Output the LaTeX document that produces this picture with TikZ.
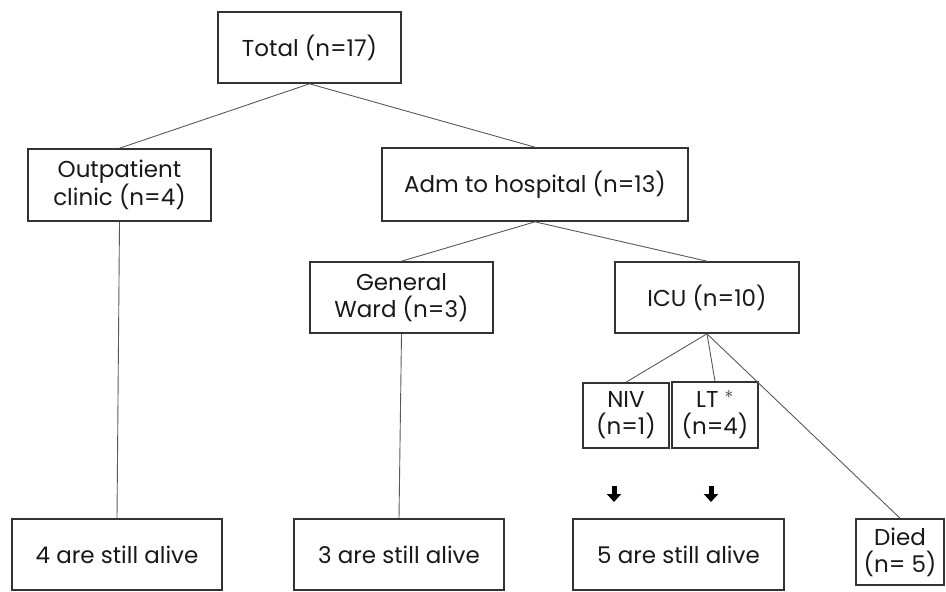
\documentclass[tikz,border=0pt]{standalone}
\usepackage{fontspec}
\setmainfont{Poppins}
\usetikzlibrary{arrows.meta}

\tikzset{
  box/.style={draw=black!80, line width=1.6, fill=white, align=center,
    inner sep=0pt, font=\fontsize{23}{27}\selectfont, text=black!90},
  link/.style={draw=black!65, line width=0.9},
  down/.style={line width=5, -{Triangle[width=14,length=8]}}
}

\begin{document}
\begin{tikzpicture}[x=1pt, y=-1pt]
		\useasboundingbox (0, 0) rectangle (946, 592);

		\node[box, minimum width=183, minimum height=71] at (309.5, 47.5) (total) {Total (n=17)};

		\node[box, minimum width=183, minimum height=72] at (119.5, 185) (outp) {Outpatient\\clinic (n=4)};
		\node[box, minimum width=306, minimum height=73] at (535, 184.5) (adm) {Adm to hospital (n=13)};

		\node[box, minimum width=183, minimum height=71] at (401.5, 297.5) (ward) {General\\Ward (n=3)};
		\node[box, minimum width=184, minimum height=71] at (707, 297.5) (icu) {ICU (n=10)};

		\node[box, minimum width=86, minimum height=65] at (626, 415.5) (niv) {NIV\\(n=1)};
		\node[box, minimum width=86, minimum height=66] at (715, 415) (lt) {LT $^{*}$\\(n=4)};

		\node[box, minimum width=210, minimum height=71] at (117, 554.5) (alive4) {4 are still alive};
		\node[box, minimum width=210, minimum height=71] at (399, 554.5) (alive3) {3 are still alive};
		\node[box, minimum width=211, minimum height=71] at (678.5, 554.5) (alive5) {5 are still alive};
		\node[box, minimum width=88, minimum height=66] at (900, 552) (died) {Died\\(n= 5)};

		% draw edges
		\draw[link] (total.south) -- (outp.north);
		\draw[link] (total.south) -- (adm.north);

		\draw[link] (adm.south) -- (ward.north);
		\draw[link] (adm.south) -- (icu.north);

		\draw[link] (outp.south) -- (alive4.north);
		\draw[link] (ward.south) -- (alive3.north);

		\draw[link] (icu.south) -- (niv.north);
		\draw[link] (icu.south) -- (lt.north);
		\draw[link] (icu.south) -- (died.north);

		% arrows above the survivors
		\draw[down] (614, 486) -- (614, 502);
		\draw[down] (711, 486) -- (711, 502);
		\end{tikzpicture}
\end{document}
